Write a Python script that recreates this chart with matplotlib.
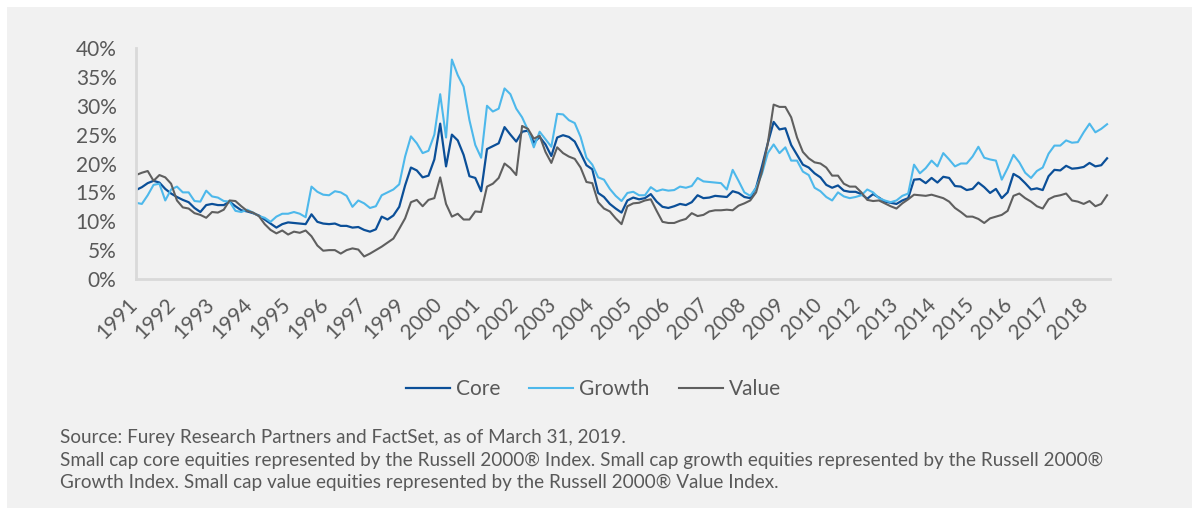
import numpy as np
import matplotlib
matplotlib.use('Agg')
import matplotlib.pyplot as plt
from matplotlib.patches import Rectangle

# rolling volatility, % (read every second month from the chart)
core = [15.4, 15.9, 16.6, 17.0, 16.7, 15.6, 14.8, 14.2, 13.7, 13.3, 12.3, 11.6, 12.8, 13.0, 12.8, 12.8, 13.4,
        12.6, 11.9, 11.7, 11.4, 11.0, 10.3, 9.6, 8.9, 9.5, 9.8, 9.7, 9.6, 9.5, 11.2, 9.9, 9.6, 9.5,
        9.6, 9.2, 9.2, 8.9, 9.0, 8.5, 8.2, 8.6, 10.8, 10.3, 11.0, 12.5, 16.2, 19.3, 18.8, 17.6, 17.9,
        20.7, 26.9, 19.5, 25.0, 24.0, 21.5, 17.8, 17.5, 15.2, 22.5, 23.0, 23.5, 26.3, 25.0, 23.8, 25.5,
        25.7, 23.6, 24.6, 23.3, 21.3, 24.5, 24.9, 24.6, 23.8, 21.8, 19.7, 19.0, 14.9, 14.2, 13.0, 12.2,
        11.5, 13.6, 14.1, 13.8, 14.0, 14.7, 13.4, 12.5, 12.3, 12.6, 13.0, 12.8, 13.3, 14.5, 14.0, 14.1, 14.4,
        14.3, 14.2, 15.2, 14.9, 14.2, 14.0, 15.8, 19.5, 23.5, 27.2, 25.9, 26.1, 23.2, 21.5, 19.8, 19.3,
        18.3, 17.6, 16.3, 15.8, 16.2, 15.3, 15.1, 15.1, 14.7, 13.9, 14.7, 14.1, 13.4, 13.2, 13.0, 13.6, 14.0, 17.2,
        17.3, 16.6, 17.5, 16.7, 17.7, 17.5, 16.1, 16.0, 15.4, 15.6, 16.7, 15.9, 14.9, 15.6, 14.0, 15.0, 18.2,
        17.6, 16.6, 15.5, 15.7, 15.4, 17.8, 18.9, 18.8, 19.6, 19.1, 19.2, 19.4, 20.1, 19.5, 19.7, 20.9]
growth = [13.2, 13.0, 14.5, 16.3, 16.5, 13.6, 15.5, 16.0, 15.0, 15.0, 13.5, 13.4, 15.3, 14.3, 14.1, 13.5, 13.4,
          11.8, 11.6, 12.0, 11.5, 10.9, 10.6, 9.9, 10.8, 11.3, 11.3, 11.6, 11.3, 10.7, 16.0, 15.1, 14.6, 14.5,
          15.2, 15.0, 14.4, 12.5, 13.6, 13.1, 12.3, 12.6, 14.5, 15.0, 15.5, 16.4, 21.2, 24.7, 23.5, 21.8, 22.2,
          25.0, 32.0, 24.5, 38.0, 35.3, 33.3, 27.5, 23.2, 21.0, 30.0, 29.0, 29.5, 33.0, 32.0, 29.5, 28.0,
          25.8, 22.8, 25.5, 24.2, 22.9, 28.6, 28.5, 27.5, 27.0, 24.6, 21.0, 19.8, 17.6, 17.2, 15.6, 14.4,
          13.5, 14.9, 15.1, 14.5, 14.5, 15.9, 15.2, 15.5, 15.3, 15.4, 16.0, 15.8, 16.1, 17.5, 16.9, 16.8, 16.7,
          16.6, 15.5, 18.9, 17.0, 15.0, 14.4, 15.8, 18.2, 21.8, 23.3, 21.8, 22.8, 20.5, 20.5, 18.6, 18.0,
          15.8, 15.2, 14.2, 13.6, 15.0, 14.3, 14.0, 14.2, 14.5, 15.5, 15.0, 14.0, 13.6, 13.3, 13.6, 14.4, 14.8, 19.8,
          18.3, 19.2, 20.5, 19.5, 21.8, 20.7, 19.5, 20.0, 20.0, 21.2, 22.9, 21.0, 20.7, 20.5, 17.2, 19.2, 21.5,
          20.2, 18.4, 17.5, 18.7, 19.3, 21.7, 23.1, 23.1, 24.0, 23.6, 23.7, 25.4, 26.9, 25.4, 26.0, 26.8]
value = [18.0, 18.4, 18.7, 17.0, 18.0, 17.6, 16.5, 13.6, 12.4, 12.2, 11.4, 11.1, 10.6, 11.6, 11.5, 12.0, 13.6,
         13.5, 12.6, 11.8, 11.5, 10.9, 9.5, 8.5, 7.9, 8.4, 7.7, 8.2, 8.0, 8.4, 7.4, 5.8, 4.9, 5.0,
         5.0, 4.4, 5.0, 5.3, 5.1, 3.9, 4.4, 5.0, 5.6, 6.3, 7.0, 8.7, 10.5, 13.3, 13.7, 12.6, 13.7,
         14.0, 17.6, 13.0, 10.8, 11.3, 10.3, 10.3, 11.7, 11.6, 16.0, 16.5, 17.5, 20.0, 19.2, 18.0, 26.5,
         26.0, 24.3, 24.8, 22.0, 20.1, 22.8, 21.8, 21.2, 20.8, 19.3, 16.8, 16.6, 13.3, 12.2, 11.7, 10.5,
         9.5, 12.6, 13.1, 13.2, 13.6, 13.8, 11.8, 9.9, 9.7, 9.7, 10.1, 10.4, 11.4, 10.9, 11.1, 11.7, 11.9,
         11.9, 12.0, 11.9, 12.7, 13.1, 13.6, 15.0, 18.6, 23.5, 30.2, 29.8, 29.8, 28.0, 24.5, 22.0, 20.9,
         20.2, 20.0, 19.3, 17.9, 17.9, 16.5, 16.0, 16.0, 15.0, 13.7, 13.5, 13.6, 13.1, 12.6, 12.2, 13.1, 13.8, 14.6,
         14.5, 14.4, 14.6, 14.3, 14.0, 13.4, 12.3, 11.6, 10.8, 10.8, 10.4, 9.7, 10.5, 10.8, 11.1, 11.8, 14.4,
         14.8, 14.0, 13.4, 12.6, 12.2, 13.8, 14.3, 14.5, 14.8, 13.6, 13.4, 13.0, 13.5, 12.6, 13.0, 14.5]

year_labels = ['1991', '1992', '1993', '1994', '1995', '1996', '1997', '1999', '2000', '2001', '2002',
               '2003', '2004', '2005', '2006', '2007', '2008', '2009', '2010', '2012', '2013', '2014',
               '2015', '2016', '2017', '2018']
y_ticks = [0, 5, 10, 15, 20, 25, 30, 35, 40]

footnote = ["Source: Furey Research Partners and FactSet, as of March 31, 2019.",
            "Small cap core equities represented by the Russell 2000\u00ae Index. Small cap growth equities represented by the Russell 2000\u00ae",
            "Growth Index. Small cap value equities represented by the Russell 2000\u00ae Value Index."]

plt.rcParams['font.family'] = ['Lato', 'DejaVu Sans']
txt = '#595959'

fig = plt.figure(figsize=(11.99, 5.15), dpi=100)
fig.patches.append(Rectangle((7 / 1199, 7 / 515), 1185 / 1199, 501 / 515, transform=fig.transFigure,
                             facecolor='#f1f1f1', edgecolor='none', zorder=-5))

ax = fig.add_axes([136 / 1199, 1 - 279 / 515, 974 / 1199, 231 / 515])
ax.set_zorder(2)
ax.patch.set_alpha(0)

months = np.arange(len(core)) * 2
ax.plot(months, core, color='#0b4f98', lw=1.6, label='Core')
ax.plot(months, growth, color='#4db8eb', lw=1.5, label='Growth')
ax.plot(months, value, color='#5f5f5f', lw=1.5, label='Value')

ax.set_xlim(0, 333)
ax.set_ylim(0, 40)
ax.set_yticks(y_ticks)
ax.set_yticklabels([f'{v}%' for v in y_ticks])
ax.set_xticks(np.arange(len(year_labels)) * 13 + 2)
ax.set_xticklabels(year_labels, rotation=45, ha='right', va='top')
ax.tick_params(axis='both', length=0, labelsize=15, labelcolor=txt)
ax.tick_params(axis='y', pad=14)
ax.tick_params(axis='x', pad=11)

for s in ['top', 'right']:
    ax.spines[s].set_visible(False)
for s in ['left', 'bottom']:
    ax.spines[s].set_color('#d9d9d9')
    ax.spines[s].set_linewidth(2)

leg = fig.legend(loc='center', bbox_to_anchor=(0.495, 1 - 389 / 515), ncol=3, frameon=False,
                 fontsize=15, handlelength=2.1, handletextpad=0.3, columnspacing=1.4, labelcolor=txt)

for k, line in enumerate(footnote):
    fig.text(60 / 1199, 1 - (438 + 22 * k) / 515, line, fontsize=13.6, color=txt, va='center', ha='left')

fig.savefig('out.png', dpi=100, facecolor='white')
